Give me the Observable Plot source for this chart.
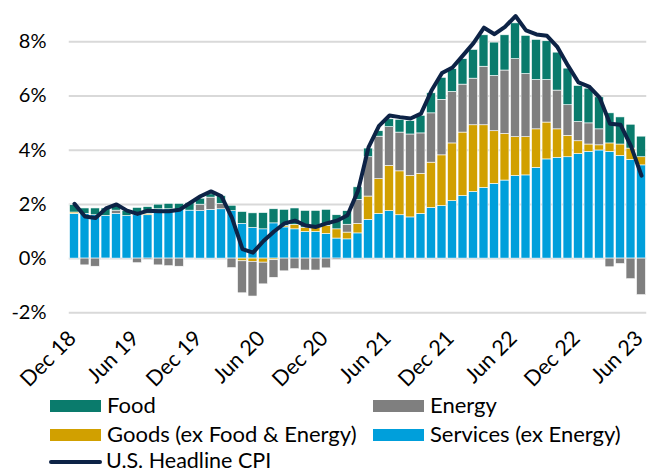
<!DOCTYPE html>
<html><head><meta charset="utf-8">
<script src="https://cdn.jsdelivr.net/npm/d3@7"></script>
<script src="https://cdn.jsdelivr.net/npm/@observablehq/plot@0.6"></script>
<style>
body{margin:0;background:#fff;font-family:Lato,"Open Sans",sans-serif;}
#wrap{position:relative;width:648px;height:475px;}
#chart{position:absolute;left:0;top:0;}
.lg{position:absolute;color:#000;white-space:nowrap;}
.sw{position:absolute;}
</style></head><body><div id="wrap"><div id="chart"></div></div>
<script>
const months = ["Dec 18","Jan 19","Feb 19","Mar 19","Apr 19","May 19","Jun 19","Jul 19","Aug 19","Sep 19","Oct 19","Nov 19",
"Dec 19","Jan 20","Feb 20","Mar 20","Apr 20","May 20","Jun 20","Jul 20","Aug 20","Sep 20","Oct 20","Nov 20",
"Dec 20","Jan 21","Feb 21","Mar 21","Apr 21","May 21","Jun 21","Jul 21","Aug 21","Sep 21","Oct 21","Nov 21",
"Dec 21","Jan 22","Feb 22","Mar 22","Apr 22","May 22","Jun 22","Jul 22","Aug 22","Sep 22","Oct 22","Nov 22",
"Dec 22","Jan 23","Feb 23","Mar 23","Apr 23","May 23","Jun 23"];
const tickLabels = ["Dec 18","Jun 19","Dec 19","Jun 20","Dec 20","Jun 21","Dec 21","Jun 22","Dec 22","Jun 23"];
const services = [1.65,1.65,1.6,1.58,1.65,1.57,1.6,1.6,1.82,1.82,1.8,1.77,
1.75,1.8,1.82,1.75,1.28,1.13,1.08,1.3,1.15,1.08,0.98,0.98,
0.91,0.74,0.71,0.93,1.43,1.65,1.75,1.6,1.52,1.65,1.87,1.94,
2.12,2.31,2.46,2.61,2.76,2.88,3.05,3.07,3.35,3.66,3.72,3.74,
3.86,3.94,3.99,3.94,3.79,3.64,3.44];
const goods = [0.05,0,0,0,0,0,0,0.05,0,0,0,0,
0,0,0,0,-0.1,-0.12,-0.15,-0.06,0.05,0.17,0.16,0.16,
0.3,0.34,0.25,0.35,0.86,1.28,1.67,1.62,1.53,1.48,1.67,1.87,
2.13,2.34,2.46,2.31,1.94,1.72,1.43,1.41,1.42,1.36,1.05,0.79,
0.47,0.27,0.19,0.31,0.42,0.42,0.3];
const energy = [0,-0.25,-0.3,-0.03,0.12,0,-0.17,-0.05,-0.25,-0.28,-0.3,-0.03,
0.24,0.45,0.2,-0.35,-1.18,-1.28,-0.8,-0.65,-0.47,-0.39,-0.44,-0.44,
-0.36,-0.05,0.29,0.89,1.45,1.57,1.43,1.43,1.53,1.49,1.82,2.05,
1.9,1.77,1.72,2.16,2.04,2.34,2.88,2.33,1.82,1.57,1.43,1.13,
0.71,0.78,0.59,-0.32,-0.2,-0.76,-1.35];
const food = [0.27,0.2,0.25,0.27,0.22,0.18,0.27,0.25,0.17,0.2,0.22,0.28,
0.22,0.12,0.28,0.2,0.44,0.54,0.6,0.52,0.6,0.6,0.62,0.62,
0.59,0.52,0.5,0.46,0.32,0.2,0.29,0.47,0.49,0.65,0.74,0.81,
0.84,0.94,1.06,1.16,1.23,1.3,1.32,1.41,1.48,1.43,1.4,1.35,
1.33,1.28,1.18,1.11,1.0,0.88,0.76];
const headline = [2.02,1.55,1.5,1.85,2.0,1.77,1.65,1.77,1.75,1.75,1.8,2.05,
2.3,2.48,2.3,1.5,0.35,0.22,0.65,1.0,1.3,1.4,1.22,1.17,
1.3,1.4,1.6,2.5,4.1,4.9,5.28,5.22,5.17,5.35,6.2,6.85,
7.05,7.5,7.95,8.52,8.28,8.55,8.95,8.42,8.27,8.22,7.8,7.12,
6.5,6.35,5.95,4.98,4.94,4.15,3.06];
const yTicks = [-2,0,2,4,6,8];

const seriesNames = ["Services (ex Energy)","Goods (ex Food & Energy)","Energy","Food"];
const seriesColors = ["#009FDB","#D1A000","#7F7F7F","#0A7B6C"];
const seriesValues = [services, goods, energy, food];
const lineColor = "#0D2346";

const rows = [];
seriesNames.forEach((name, k) => seriesValues[k].forEach((v, i) => rows.push({month: months[i], v, series: name})));
const lineRows = headline.map((v, i) => ({month: months[i], v}));

const H = 395, yBottom = 312.3;
const chart = Plot.plot({
  width: 648, height: H,
  marginLeft: 68.75, marginRight: 1.75, marginTop: 14.2, marginBottom: H - yBottom,
  style: {fontFamily: "Lato, 'Open Sans', sans-serif", fontSize: "20px", color: "#000", background: "#fff"},
  x: {type: "band", domain: months, paddingInner: 0.15, paddingOuter: 0.075, round: false, label: null},
  y: {domain: [-2, 9], label: null},
  color: {domain: seriesNames, range: seriesColors},
  marks: [
    Plot.ruleY(yTicks, {stroke: "#d9d9d9", strokeWidth: 2}),
    Plot.barY(rows, Plot.stackY({x: "month", y: "v", fill: "series", order: seriesNames, stroke: "#fff", strokeWidth: 0.6})),
    Plot.line(lineRows, {x: "month", y: "v", stroke: lineColor, strokeWidth: 4, strokeLinejoin: "round", strokeLinecap: "round"}),
    Plot.axisY({ticks: yTicks, tickFormat: d => `${d}%`, tickSize: 0, tickPadding: 22.75, fontSize: 20}),
    Plot.axisX({ticks: tickLabels, tickRotate: -45, tickSize: 0, tickPadding: 22, dx: -2, fontSize: 21.5})
  ]
});
document.getElementById("chart").appendChild(chart);

const wrap = document.getElementById("wrap");
const legend = [
  {name: "Food", color: seriesColors[3], x: 50, y: 406, type: "box", fs: 22},
  {name: "Energy", color: seriesColors[2], x: 373, y: 406, type: "box", fs: 22},
  {name: "Goods (ex Food & Energy)", color: seriesColors[1], x: 50, y: 435, type: "box", fs: 22},
  {name: "Services (ex Energy)", color: seriesColors[0], x: 373, y: 435, type: "box", fs: 22},
  {name: "U.S. Headline CPI", color: lineColor, x: 49, y: 462, type: "line", fs: 21.5}
];
legend.forEach(l => {
  const sw = document.createElement("div");
  sw.className = "sw";
  if (l.type === "box") {
    sw.style.cssText = `left:${l.x}px;top:${l.y - 6}px;width:51px;height:12px;background:${l.color};`;
  } else {
    sw.style.cssText = `left:${l.x}px;top:${l.y - 2}px;width:53px;height:4px;background:${l.color};border-radius:2px;`;
  }
  wrap.appendChild(sw);
  const t = document.createElement("div");
  t.className = "lg";
  t.textContent = l.name;
  t.style.fontSize = l.fs + "px";
  t.style.lineHeight = "1";
  t.style.left = (l.x + 57) + "px";
  t.style.top = (l.y - l.fs * 0.5 - 1) + "px";
  wrap.appendChild(t);
});
</script></body></html>
